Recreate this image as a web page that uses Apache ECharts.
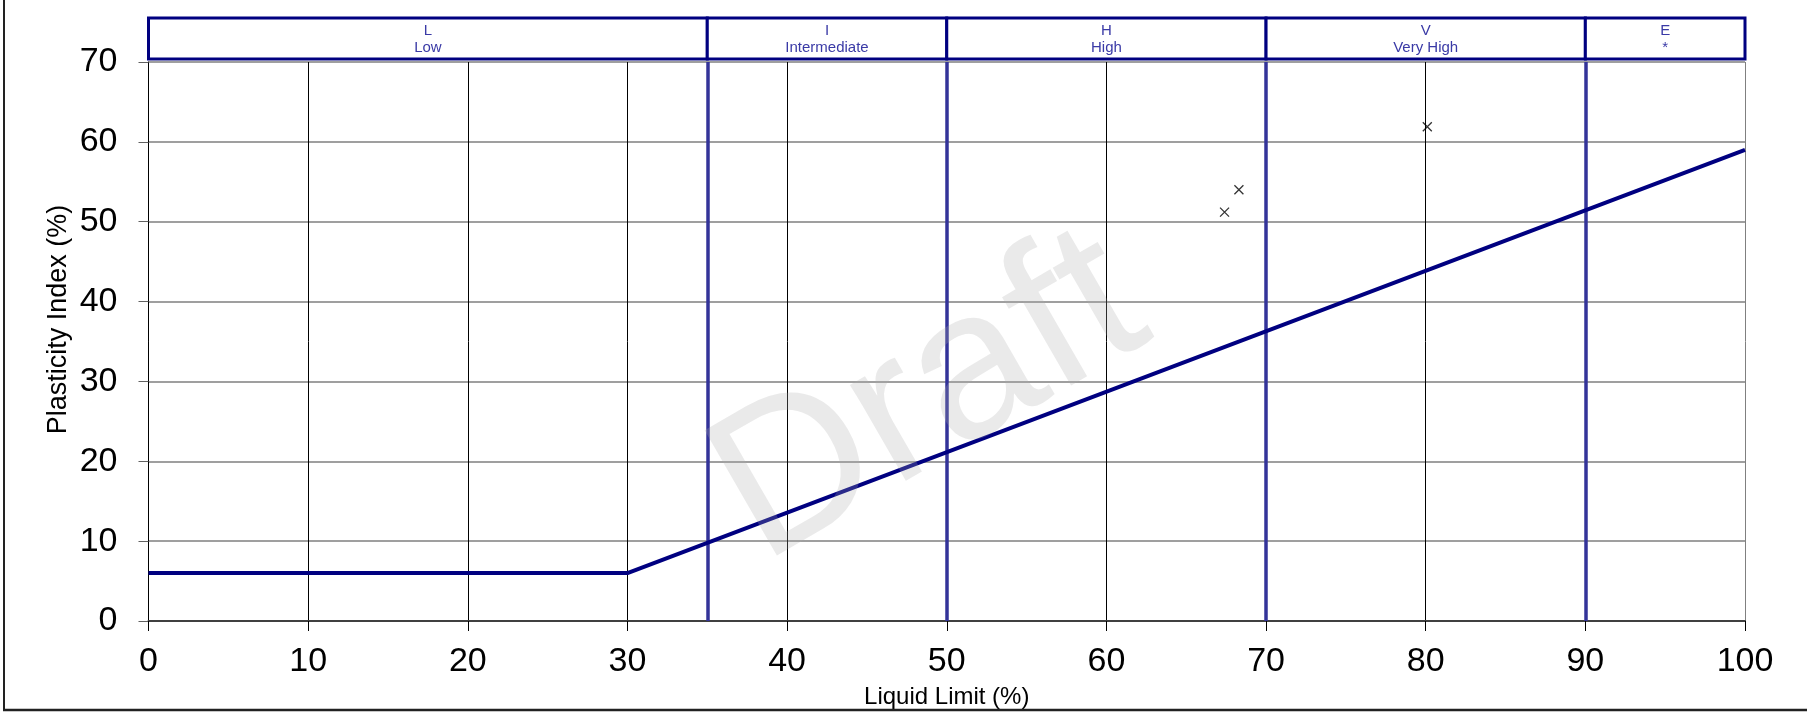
<!DOCTYPE html>
<html>
<head>
<meta charset="utf-8">
<script src="https://cdn.jsdelivr.net/npm/echarts@6/dist/echarts.min.js"></script>
<style>
  html, body { margin: 0; padding: 0; background: #fff; }
  #chart { width: 1807px; height: 712px; }
</style>
</head>
<body>
<div id="chart"></div>
<script>
// plasticity chart data
const xTicks = [0, 10, 20, 30, 40, 50, 60, 70, 80, 90, 100];
const yTicks = [0, 10, 20, 30, 40, 50, 60, 70];
const aLine = [[0, 6], [30, 6], [100, 59]];
const samples = [[67.4, 51.2], [68.3, 54.0], [80.1, 61.9]];
const zoneEdges = [0, 35, 50, 70, 90, 100];
const zoneCodes = ['L', 'I', 'H', 'V', 'E'];
const zoneNames = ['Low', 'Intermediate', 'High', 'Very High', '*'];

const FONT = 'Liberation Sans, Arial, sans-serif';

const zones = zoneCodes.map((c, i) => [zoneEdges[i], zoneEdges[i + 1], c, zoneNames[i]]);
const dividers = zoneEdges.slice(1, -1).map(v => ({ xAxis: v }));

const chart = echarts.init(document.getElementById('chart'));

// vertical grid lines black, last one (x=100) grey
const xSplitColors = xTicks.map((v, i) => i === xTicks.length - 1 ? '#808080' : '#000');

const option = {
  animation: false,
  grid: [
    { left: 148.5, right: 62, top: 62, bottom: 91, outerBoundsMode: 'none', containLabel: false },
    { left: 148.5, right: 62, top: 18, height: 41, outerBoundsMode: 'none', containLabel: false }
  ],
  xAxis: [
    {
      type: 'value', gridIndex: 0,
      min: xTicks[0], max: xTicks[xTicks.length - 1], interval: 10,
      name: 'Liquid Limit (%)', nameLocation: 'middle', nameGap: 64, nameMoveOverlap: false,
      nameTextStyle: { color: '#000', fontSize: 24, fontFamily: FONT },
      axisLine: { show: true, lineStyle: { color: '#404040', width: 2 } },
      axisTick: { show: true, inside: false, length: 10, lineStyle: { color: '#000' } },
      axisLabel: { color: '#000', fontSize: 34, fontFamily: FONT, margin: 24 },
      splitLine: { show: true, lineStyle: { color: xSplitColors, width: 1 } }
    },
    {
      type: 'value', gridIndex: 1, min: 0, max: 100,
      show: false
    }
  ],
  yAxis: [
    {
      type: 'value', gridIndex: 0,
      min: yTicks[0], max: yTicks[yTicks.length - 1], interval: 10,
      name: 'Plasticity Index (%)', nameLocation: 'middle', nameGap: 76, nameMoveOverlap: false,
      nameTextStyle: { color: '#000', fontSize: 27, fontFamily: FONT, padding: [0, 0, 0, 44] },
      axisLine: { show: true, lineStyle: { color: '#000', width: 1 } },
      axisTick: { show: true, inside: false, length: 10, lineStyle: { color: '#606060' } },
      axisLabel: { color: '#000', fontSize: 34, fontFamily: FONT, margin: 31 },
      splitLine: { show: true, lineStyle: { color: '#7f7f7f', width: 1.5 } }
    },
    {
      type: 'value', gridIndex: 1, min: 0, max: 1,
      show: false
    }
  ],
  series: [
    {
      name: 'Zones',
      type: 'line',
      xAxisIndex: 0, yAxisIndex: 0,
      data: [],
      markLine: {
        silent: true,
        symbol: ['none', 'none'],
        label: { show: false },
        lineStyle: { color: '#333399', width: 3.5, type: 'solid' },
        data: dividers
      }
    },
    {
      name: 'A-Line',
      type: 'line',
      xAxisIndex: 0, yAxisIndex: 0,
      data: aLine,
      showSymbol: false,
      symbol: 'none',
      lineStyle: { color: '#000080', width: 4 },
      z: 5
    },
    {
      name: 'Samples',
      type: 'scatter',
      xAxisIndex: 0, yAxisIndex: 0,
      data: samples,
      symbol: 'path://M0,0L10,10M0,10L10,0',
      symbolSize: 9,
      itemStyle: { color: 'none', borderColor: '#000', borderWidth: 1.3 },
      z: 6
    },
    {
      name: 'Band',
      type: 'custom',
      xAxisIndex: 1, yAxisIndex: 1,
      data: zones,
      renderItem: function (params, api) {
        const p0 = api.coord([api.value(0), 1]);
        const p1 = api.coord([api.value(1), 0]);
        return {
          type: 'group',
          children: [
            {
              type: 'rect',
              shape: { x: p0[0], y: p0[1], width: p1[0] - p0[0], height: p1[1] - p0[1] },
              style: { fill: '#fff', stroke: '#000080', lineWidth: 3 }
            },
            {
              type: 'text',
              style: {
                text: zones[params.dataIndex][2] + '\n' + zones[params.dataIndex][3],
                x: (p0[0] + p1[0]) / 2,
                y: (p0[1] + p1[1]) / 2 + 1,
                align: 'center',
                verticalAlign: 'middle',
                fill: '#3a3aa6',
                font: '15px ' + FONT,
                lineHeight: 17
              }
            }
          ]
        };
      }
    }
  ],
  graphic: [
    {
      type: 'text', x: 930, y: 400, rotation: Math.PI / 6, z: 100, silent: true,
      style: {
        text: 'Draft', font: '210px ' + FONT,
        fill: 'rgba(170,170,170,0.25)', align: 'center', verticalAlign: 'middle'
      }
    },
    {
      type: 'line', z: 100, silent: true,
      shape: { x1: 4, y1: 0, x2: 4, y2: 710 },
      style: { stroke: '#222', lineWidth: 2 }
    },
    {
      type: 'line', z: 100, silent: true,
      shape: { x1: 3, y1: 710, x2: 1807, y2: 710 },
      style: { stroke: '#222', lineWidth: 2.5 }
    }
  ]
};

chart.setOption(option);
window.addEventListener('resize', () => chart.resize());
</script>
</body>
</html>
